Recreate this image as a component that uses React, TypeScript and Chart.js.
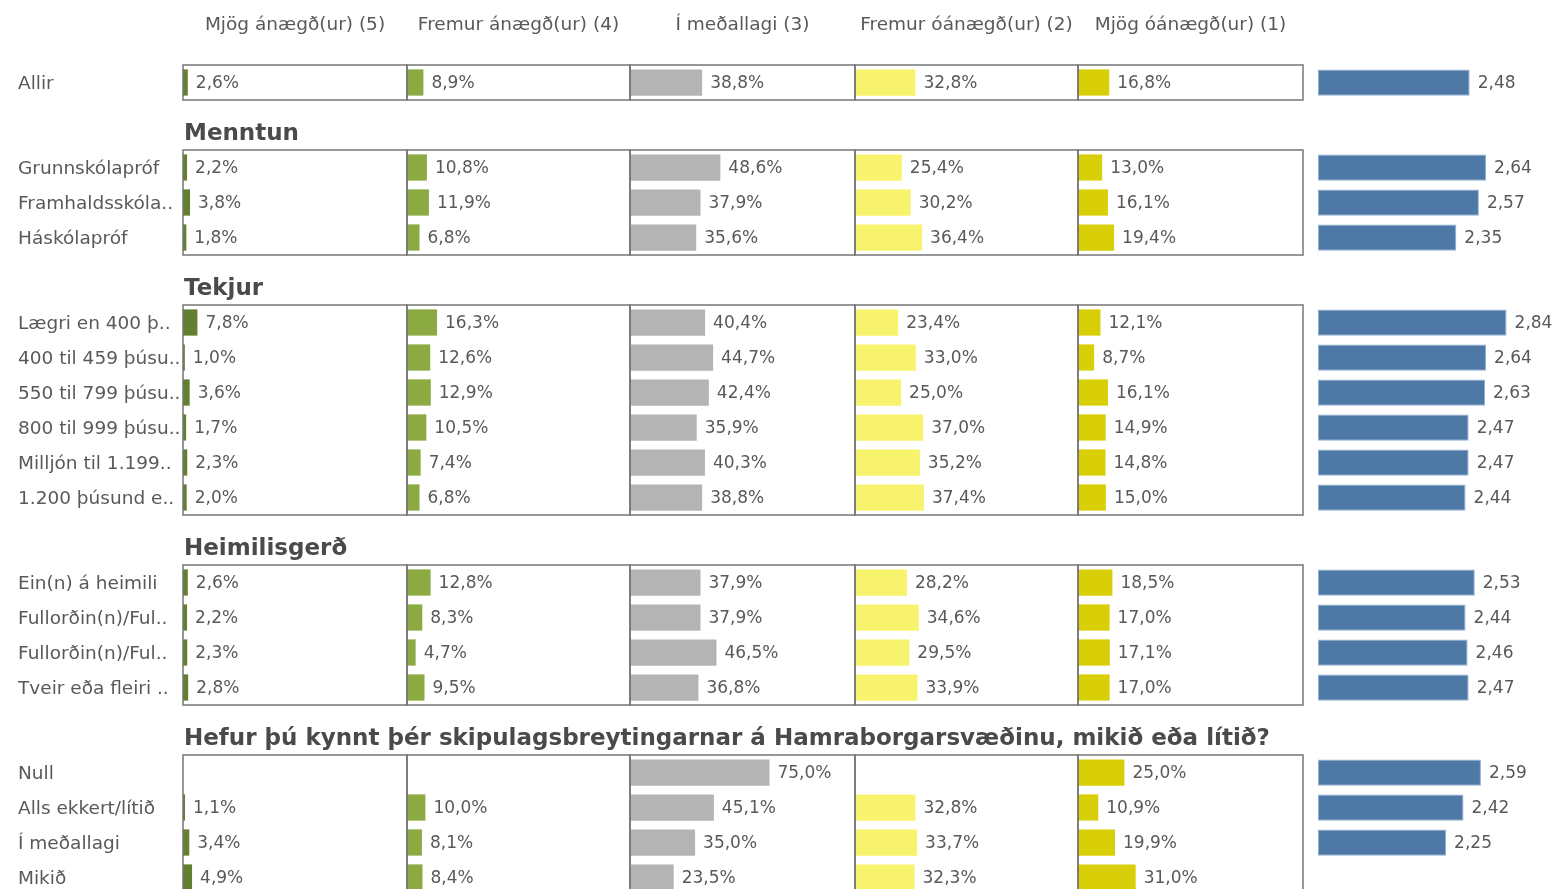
import React, { useEffect, useRef } from 'react';
import { Chart, registerables } from 'chart.js';

Chart.register(...registerables);
Chart.defaults.font.family = '"DejaVu Sans", sans-serif';

// ---------- data ----------
const columnHeaders = [
  'Mjög ánægð(ur) (5)',
  'Fremur ánægð(ur) (4)',
  'Í meðallagi (3)',
  'Fremur óánægð(ur) (2)',
  'Mjög óánægð(ur) (1)',
];

const groupTitles = [
  '',
  'Menntun',
  'Tekjur',
  'Heimilisgerð',
  'Hefur þú kynnt þér skipulagsbreytingarnar á Hamraborgarsvæðinu, mikið eða lítið?',
];
const groupSizes = [1, 3, 6, 4, 4];

const rowLabels = [
  'Allir',
  'Grunnskólapróf',
  'Framhaldsskóla..',
  'Háskólapróf',
  'Lægri en 400 þ..',
  '400 til 459 þúsu..',
  '550 til 799 þúsu..',
  '800 til 999 þúsu..',
  'Milljón til 1.199..',
  '1.200 þúsund e..',
  'Ein(n) á heimili',
  'Fullorðin(n)/Ful..',
  'Fullorðin(n)/Ful..',
  'Tveir eða fleiri ..',
  'Null',
  'Alls ekkert/lítið',
  'Í meðallagi',
  'Mikið',
];

const mjogAnaegd = [2.6, 2.2, 3.8, 1.8, 7.8, 1.0, 3.6, 1.7, 2.3, 2.0, 2.6, 2.2, 2.3, 2.8, null, 1.1, 3.4, 4.9];
const fremurAnaegd = [8.9, 10.8, 11.9, 6.8, 16.3, 12.6, 12.9, 10.5, 7.4, 6.8, 12.8, 8.3, 4.7, 9.5, null, 10.0, 8.1, 8.4];
const iMedallagi = [38.8, 48.6, 37.9, 35.6, 40.4, 44.7, 42.4, 35.9, 40.3, 38.8, 37.9, 37.9, 46.5, 36.8, 75.0, 45.1, 35.0, 23.5];
const fremurOanaegd = [32.8, 25.4, 30.2, 36.4, 23.4, 33.0, 25.0, 37.0, 35.2, 37.4, 28.2, 34.6, 29.5, 33.9, null, 32.8, 33.7, 32.3];
const mjogOanaegd = [16.8, 13.0, 16.1, 19.4, 12.1, 8.7, 16.1, 14.9, 14.8, 15.0, 18.5, 17.0, 17.1, 17.0, 25.0, 10.9, 19.9, 31.0];
const medaltal = [2.48, 2.64, 2.57, 2.35, 2.84, 2.64, 2.63, 2.47, 2.47, 2.44, 2.53, 2.44, 2.46, 2.47, 2.59, 2.42, 2.25, null];

// ---------- styling ----------
const panelColors = ['#62802f', '#8bab42', '#b4b4b4', '#f8f36c', '#d8cf08'];
const meanColor = '#4e79a7';
const panelWeights = [224, 223, 225, 223, 225];
const meanWeight = 258;
const ROW = 35;
const WIDTH = 1561;

const decorPlugin = {
  id: 'decor',
  afterDatasetsDraw(chart: any, _args: any, opts: any) {
    const ctx = chart.ctx;
    const { top, bottom } = chart.chartArea;
    ctx.save();
    ctx.strokeStyle = '#767676';
    ctx.lineWidth = 1.5;
    for (let i = 0; i < 5; i++) {
      const s = chart.scales['x' + i];
      const l = Math.round(s.left);
      const r = Math.round(s.right);
      const t = Math.round(top);
      ctx.strokeRect(l, t, r - l, Math.round(bottom) - t);
    }
    ctx.font = '17px "DejaVu Sans"';
    ctx.fillStyle = '#595959';
    ctx.textBaseline = 'middle';
    ctx.textAlign = 'left';
    chart.data.datasets.forEach((ds: any, di: number) => {
      const meta = chart.getDatasetMeta(di);
      meta.data.forEach((el: any, j: number) => {
        const v = ds.data[j];
        if (v == null) return;
        const txt = di === 5 ? v.toFixed(2).replace('.', ',') : v.toFixed(1).replace('.', ',') + '%';
        ctx.fillText(txt, el.x + 8, el.y + 1);
      });
    });
    if (opts.title) {
      ctx.font = 'bold 23px "DejaVu Sans"';
      ctx.fillStyle = '#4a4a4a';
      ctx.fillText(opts.title, chart.chartArea.left + 1, 19);
    }
    if (opts.headers) {
      ctx.font = '18.5px "DejaVu Sans"';
      ctx.fillStyle = '#595959';
      ctx.textAlign = 'center';
      for (let i = 0; i < 5; i++) {
        const s = chart.scales['x' + i];
        ctx.fillText(columnHeaders[i], (s.left + s.right) / 2, 25);
      }
    }
    ctx.restore();
  },
};

function GroupChart({ start, count, title, headers }: { start: number; count: number; title: string; headers: boolean }) {
  const ref = useRef<HTMLCanvasElement>(null);
  const padTop = headers ? 65 : 35;
  const height = padTop + count * ROW + 15;

  useEffect(() => {
    const sl = (a: any[]) => a.slice(start, start + count);
    const series = [mjogAnaegd, fremurAnaegd, iMedallagi, fremurOanaegd, mjogOanaegd];
    const datasets: any[] = series.map((s, i) => ({
      data: sl(s),
      xAxisID: 'x' + i,
      yAxisID: 'y',
      backgroundColor: panelColors[i],
      grouped: false,
      barPercentage: 0.75,
      categoryPercentage: 1,
    }));
    datasets.push({
      data: sl(medaltal),
      xAxisID: 'xm',
      yAxisID: 'y',
      base: 1,
      backgroundColor: meanColor,
      borderColor: '#8fb0d3',
      borderWidth: 1,
      borderSkipped: false,
      grouped: false,
      barPercentage: 0.75,
      categoryPercentage: 1,
    });
    const scales: any = {
      y: {
        type: 'category',
        position: 'left',
        grid: { display: false },
        border: { display: false },
        ticks: {
          color: '#595959',
          font: { size: 18.5 },
          crossAlign: 'far',
          autoSkip: false,
          padding: 0,
          labelOffset: 2,
        },
        afterFit: (s: any) => {
          s.width = 165;
        },
      },
    };
    panelWeights.forEach((w, i) => {
      scales['x' + i] = {
        type: 'linear',
        position: 'bottom',
        stack: 'cols',
        stackWeight: w,
        min: 0,
        max: 121,
        stacked: false,
        display: false,
      };
    });
    scales.xm = {
      type: 'linear',
      position: 'bottom',
      stack: 'cols',
      stackWeight: meanWeight,
      min: 0.854,
      max: 3.371,
      stacked: false,
      display: false,
    };
    const chart = new Chart(ref.current as HTMLCanvasElement, {
      type: 'bar',
      data: { labels: sl(rowLabels), datasets },
      options: {
        indexAxis: 'y',
        responsive: false,
        animation: false,
        devicePixelRatio: 1,
        layout: { padding: { left: 18, right: 0, top: padTop, bottom: 15 } },
        scales,
        plugins: {
          legend: { display: false },
          tooltip: { enabled: false },
          decor: { title, headers },
        } as any,
      },
      plugins: [decorPlugin as any],
    });
    return () => chart.destroy();
  }, [start, count, title, headers]);

  return <canvas ref={ref} width={WIDTH} height={height} style={{ display: 'block', width: WIDTH, height }} />;
}

export default function App() {
  let acc = 0;
  const groups = groupSizes.map((n, g) => {
    const s = acc;
    acc += n;
    return { start: s, count: n, title: groupTitles[g], headers: g === 0 };
  });
  return (
    <div
      style={{
        position: 'absolute',
        left: 0,
        top: 0,
        width: WIDTH,
        height: 889,
        overflow: 'hidden',
        background: '#ffffff',
      }}
    >
      {groups.map((g, i) => (
        <GroupChart key={i} start={g.start} count={g.count} title={g.title} headers={g.headers} />
      ))}
    </div>
  );
}
